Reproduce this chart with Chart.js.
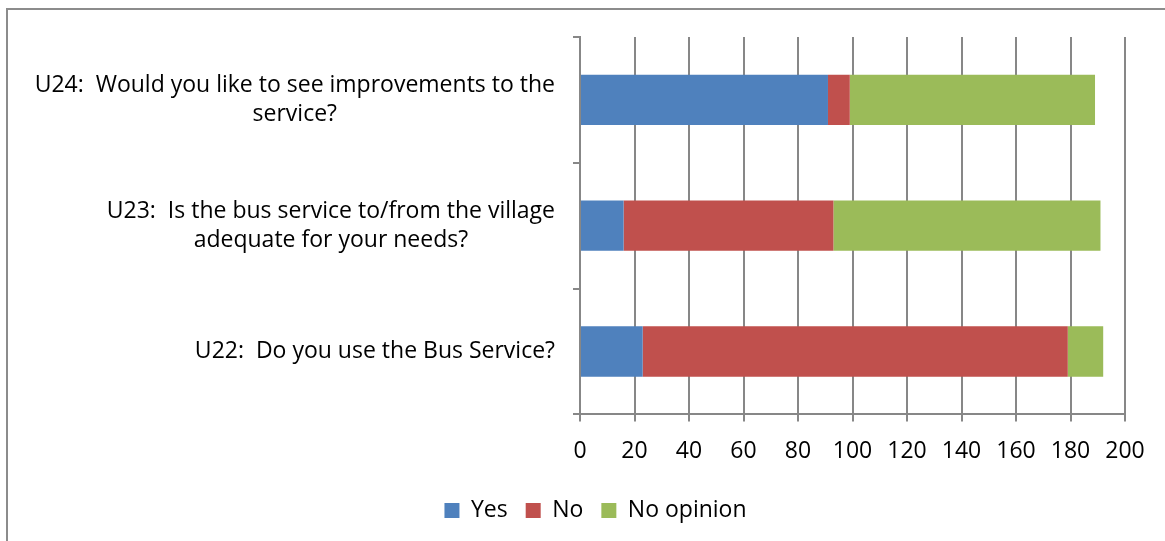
<!DOCTYPE html>
<html>
<head>
<meta charset="utf-8">
<script src="https://cdn.jsdelivr.net/npm/chart.js"></script>
<style>
  html, body { margin: 0; padding: 0; background: #fff; }
  #wrap { position: relative; width: 1165px; height: 541px; }
  #frame { position: absolute; left: 6px; top: 8px; width: 1160px; height: 540px;
           border: 2px solid #8c8c8c; border-right: none; border-bottom: none; box-sizing: border-box; }
  canvas { position: absolute; left: 0; top: 0; }
</style>
</head>
<body>
<div id="wrap">
  <div id="frame"></div>
  <canvas id="chart" width="1165" height="541"></canvas>
</div>
<script>
// questions, top to bottom
const questions = [
    ['U24:  Would you like to see improvements to the', 'service?'],
    ['U23:  Is the bus service to/from the village', 'adequate for your needs?'],
    ['U22:  Do you use the Bus Service?']
];
const yesValues = [91, 16, 23];
const noValues = [8, 77, 156];
const noOpinionValues = [90, 98, 13];
const xTicks = [0, 20, 40, 60, 80, 100, 120, 140, 160, 180, 200];

const FONT = '"Open Sans", Lato, sans-serif';
const FONT_SIZE = 23;
const gridColor = '#878787';

// draw the multi-line question labels: block right aligned, lines centred in block
const questionLabels = {
    id: 'questionLabels',
    afterLayout(chart) {
        // legend sits a little right of centre in the original
        const lg = chart.legend;
        lg.left += 33;
        lg.right += 33;
    },
    afterDraw(chart) {
        const ctx = chart.ctx;
        const yScale = chart.scales.y;
        const right = chart.chartArea.left - 25;
        ctx.save();
        ctx.font = FONT_SIZE + 'px ' + FONT;
        ctx.fillStyle = '#000';
        ctx.textAlign = 'center';
        ctx.textBaseline = 'middle';
        questions.forEach((lines, i) => {
            const w = Math.max(...lines.map(l => ctx.measureText(l).width));
            const cx = right - w / 2;
            const cy = yScale.getPixelForValue(i);
            const lh = 29;
            lines.forEach((l, j) => {
                ctx.fillText(l, cx, cy + (j - (lines.length - 1) / 2) * lh);
            });
        });
        ctx.restore();
    }
};

const ctx = document.getElementById('chart').getContext('2d');
new Chart(ctx, {
    type: 'bar',
    data: {
        labels: questions,
        datasets: [
            { label: 'Yes', data: yesValues, backgroundColor: '#4f81bd' },
            { label: 'No', data: noValues, backgroundColor: '#c0504d' },
            { label: 'No opinion', data: noOpinionValues, backgroundColor: '#9bbb59' }
        ]
    },
    options: {
        indexAxis: 'y',
        responsive: false,
        animation: false,
        layout: { padding: { top: 37, right: 40, left: 0, bottom: 9 } },
        datasets: { bar: { categoryPercentage: 0.4, barPercentage: 1.0 } },
        scales: {
            x: {
                stacked: true,
                min: 0,
                max: 200,
                afterBuildTicks: s => { s.ticks = xTicks.map(v => ({ value: v })); },
                grid: { color: gridColor, lineWidth: 2, tickLength: 7, drawTicks: true },
                border: { color: gridColor, width: 2 },
                ticks: { color: '#000', font: { family: FONT, size: FONT_SIZE }, padding: 16 }
            },
            y: {
                stacked: true,
                offset: true,
                afterFit: s => { s.width = 580; },
                grid: { offset: true, drawOnChartArea: false, color: gridColor, lineWidth: 2, tickLength: 7 },
                border: { color: gridColor, width: 2 },
                ticks: { display: false }
            }
        },
        plugins: {
            legend: {
                position: 'bottom',
                labels: {
                    color: '#000',
                    font: { family: FONT, size: FONT_SIZE },
                    boxWidth: 15,
                    boxHeight: 15,
                    padding: 18
                }
            },
            tooltip: { enabled: false }
        }
    },
    plugins: [questionLabels]
});
</script>
</body>
</html>
